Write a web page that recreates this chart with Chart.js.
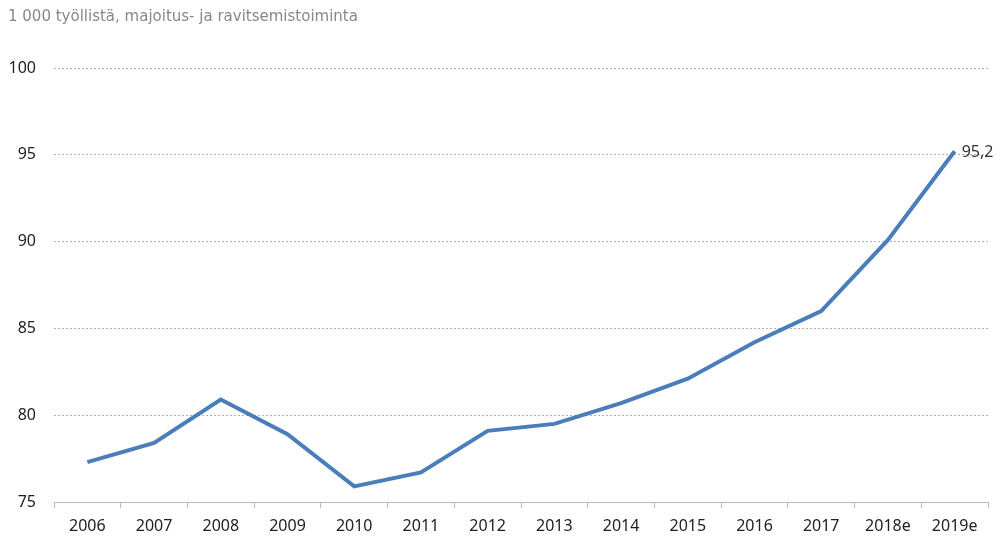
<!DOCTYPE html>
<html>
<head>
<meta charset="utf-8">
<script src="https://cdn.jsdelivr.net/npm/chart.js@4"></script>
<style>
  html, body { margin: 0; padding: 0; background: #fff; }
  #wrap { width: 1000px; height: 536px; }
</style>
</head>
<body>
<div id="wrap"><canvas id="chartTyollisia"></canvas></div>
<script>
// Data
const vuodet = ["2006", "2007", "2008", "2009", "2010", "2011", "2012", "2013", "2014", "2015", "2016", "2017", "2018e", "2019e"];
const tyollisia = [77.3, 78.4, 80.9, 78.9, 75.9, 76.7, 79.1, 79.5, 80.7, 82.1, 84.2, 86.0, 90.1, 95.2];
const yTicks = [75, 80, 85, 90, 95, 100];
const otsikko = "1 000 työllistä, majoitus- ja ravitsemistoiminta";

// label on the last point ("95,2")
const viimeinenArvo = {
    id: "viimeinenArvo",
    afterDatasetsDraw(chart) {
        const meta = chart.getDatasetMeta(0);
        const last = meta.data[meta.data.length - 1];
        const ctx = chart.ctx;
        ctx.save();
        ctx.font = "16px 'Noto Sans'";
        ctx.fillStyle = "#333";
        ctx.textAlign = "left";
        ctx.textBaseline = "middle";
        ctx.fillText(tyollisia[tyollisia.length - 1].toString().replace(".", ","), last.x + 7, last.y + 1);
        ctx.restore();
    }
};

new Chart(document.getElementById("chartTyollisia").getContext("2d"), {
    type: "line",
    data: {
        labels: vuodet,
        datasets: [{
            data: tyollisia,
            borderColor: "#4a7ebb",
            borderWidth: 4,
            pointRadius: 0,
            tension: 0,
            fill: false
        }]
    },
    options: {
        responsive: true,
        maintainAspectRatio: false,
        animation: false,
        layout: { padding: { left: 8, right: 12, top: 0, bottom: 0 } },
        plugins: {
            legend: { display: false },
            tooltip: { enabled: false },
            title: {
                display: true,
                text: otsikko,
                align: "start",
                color: "#888",
                font: { family: "'DejaVu Sans'", size: 15, weight: "normal" },
                padding: { top: 8, bottom: 42 }
            }
        },
        scales: {
            x: {
                offset: true,
                afterFit: s => { s.height = 34; },
                grid: { offset: true, drawOnChartArea: false, drawTicks: true, tickLength: 6, color: "#bbb" },
                border: { color: "#bbb" },
                ticks: { color: "#222", font: { family: "'Noto Sans'", size: 16 }, padding: 9, maxRotation: 0, autoSkip: false }
            },
            y: {
                min: 75,
                max: 100,
                afterBuildTicks: s => { s.ticks = yTicks.map(v => ({ value: v })); },
                afterFit: s => { s.width = 46; },
                grid: {
                    drawTicks: false,
                    color: ctx => ctx.tick && ctx.tick.value === 75 ? "rgba(0,0,0,0)" : "#b0b0b0"
                },
                border: { display: false, dash: [2, 2] },
                ticks: { color: "#222", font: { family: "'Noto Sans'", size: 16 }, padding: 18 }
            }
        }
    },
    plugins: [viimeinenArvo]
});
</script>
</body>
</html>
